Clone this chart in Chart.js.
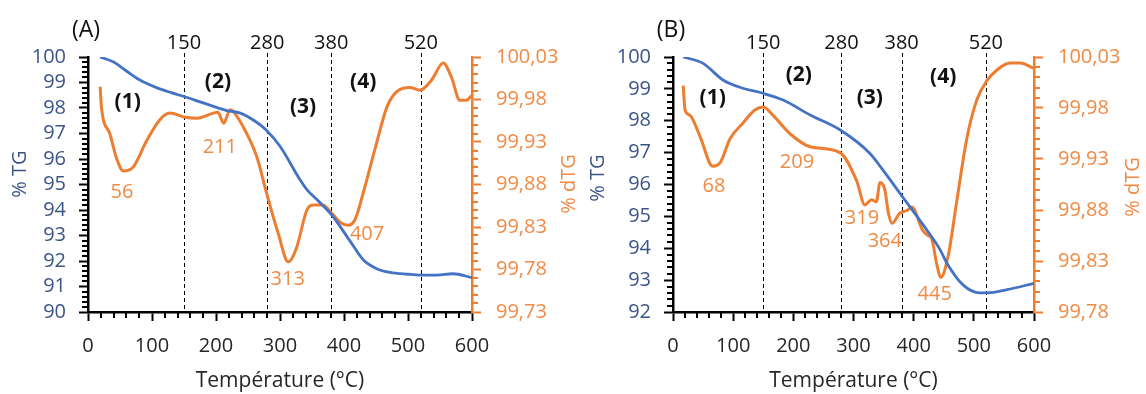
<!DOCTYPE html>
<html><head><meta charset="utf-8">
<script src="https://cdn.jsdelivr.net/npm/chart.js@4.4.1/dist/chart.umd.min.js"></script>
<style>
html,body{margin:0;padding:0;background:#fff;}
#wrap{position:relative;width:1146px;height:394px;overflow:hidden;background:#fff;}
#ca{position:absolute;left:0;top:0;width:590px;height:394px;}
#cb{position:absolute;left:573px;top:0;width:573px;height:394px;}
</style></head><body>
<div id="wrap"><canvas id="ca" width="590" height="394"></canvas><canvas id="cb" width="573" height="394"></canvas></div>
<script>
// ---------- DATA ----------
// Panel A
const tempA_TG = [19, 40, 60, 81, 107, 130, 150, 180, 217, 238, 260, 278, 300, 331, 342, 360, 381, 409, 430, 451, 472, 500, 519, 545, 570, 600];
const tgA      = [100.0, 99.8, 99.45, 99.1, 98.8, 98.6, 98.45, 98.2, 97.9, 97.8, 97.5, 97.15, 96.5, 95.2, 94.8, 94.35, 93.8, 92.8, 92.05, 91.7, 91.55, 91.48, 91.45, 91.45, 91.5, 91.35];
const tempA_dTG = [19, 21, 34, 45, 55, 70, 92, 112, 128, 152, 170, 196, 203, 212, 222, 227, 248, 264, 279, 297, 313, 326, 342, 352, 367, 381, 395, 407, 418, 430, 451, 467, 482, 503, 519, 537, 555, 568, 581, 591, 600];
const dtgA      = [99.995, 99.971, 99.94, 99.91, 99.896, 99.90, 99.932, 99.956, 99.964, 99.959, 99.958, 99.964, 99.965, 99.952, 99.968, 99.966, 99.94, 99.912, 99.87, 99.823, 99.789, 99.806, 99.85, 99.856, 99.856, 99.846, 99.835, 99.832, 99.84, 99.87, 99.929, 99.971, 99.989, 99.994, 99.991, 100.003, 100.023, 100.006, 99.979, 99.979, 99.985];
// Panel B
const tempB_TG = [17, 50, 83, 116, 148, 183, 228, 278, 327, 349, 382, 422, 444, 455, 482, 510, 522, 555, 600];
const tgB      = [100.0, 99.8, 99.28, 99.02, 98.87, 98.65, 98.18, 97.71, 96.98, 96.45, 95.6, 94.57, 93.95, 93.54, 92.85, 92.6, 92.6, 92.7, 92.9];
const tempB_dTG = [17, 20, 28, 45, 66, 78, 95, 116, 136, 150, 166, 194, 228, 278, 305, 319, 330, 338, 344, 352, 358, 364, 377, 382, 390, 397, 415, 424, 430, 438, 445, 457, 472, 488, 505, 522, 538, 560, 577, 599];
const dtgB      = [100.002, 99.978, 99.973, 99.952, 99.923, 99.926, 99.95, 99.965, 99.978, 99.981, 99.973, 99.955, 99.942, 99.936, 99.909, 99.885, 99.89, 99.888, 99.907, 99.9, 99.877, 99.867, 99.877, 99.878, 99.88, 99.883, 99.86, 99.855, 99.852, 99.828, 99.814, 99.834, 99.89, 99.949, 99.988, 100.007, 100.017, 100.024, 100.024, 100.019];

// Ticks
const xTicks = [0, 100, 200, 300, 400, 500, 600];
const tgTicksA = [90, 91, 92, 93, 94, 95, 96, 97, 98, 99, 100];
const dtgTicksA = [99.73, 99.78, 99.83, 99.88, 99.93, 99.98, 100.03];
const tgTicksB = [92, 93, 94, 95, 96, 97, 98, 99, 100];
const dtgTicksB = [99.78, 99.83, 99.88, 99.93, 99.98, 100.03];

// Vertical dashed temperature markers
const markerTemps = [150, 280, 380, 520];

// Stage labels (placed in TG-axis coordinates)
const stageLabels = ['(1)', '(2)', '(3)', '(4)'];
const stageTA = [62, 203, 336, 430];
const stageVA = [98.24, 99.02, 98.04, 99.02];
const stageTB = [66, 209, 327, 449];
const stageVB = [98.71, 99.44, 98.71, 99.37];

// Peak labels (placed in dTG-axis coordinates)
const peakLabelsA = ['56', '211', '313', '407'];
const peakTA = [53, 206, 312, 436];
const peakVA = [99.871, 99.924, 99.768, 99.821];
const peakLabelsB = ['68', '209', '319', '364', '445'];
const peakTB = [68, 206, 314, 352, 435];
const peakVB = [99.903, 99.927, 99.872, 99.849, 99.797];

// ---------- STYLE ----------
const FONT = "'Open Sans', sans-serif";
const BLUE = '#4472C4';
const ORANGE = '#ED7D31';
const ORANGE_TXT = '#EF8A45';
const TG_TXT = '#3B5587';
const DARK = '#262626';

function pts(xs, ys) { return xs.map((x, i) => ({x: x, y: ys[i]})); }

function vText(ctx, text, cx, cy) {
  ctx.save();
  ctx.translate(cx, cy);
  ctx.rotate(-Math.PI / 2);
  ctx.textAlign = 'center'; ctx.textBaseline = 'middle';
  ctx.fillText(text, 0, 0);
  ctx.restore();
}

function makePlugin(p) {
  return {
    id: 'extras_' + p.name,
    beforeDatasetsDraw(chart) {
      const ctx = chart.ctx, x = chart.scales.x, area = chart.chartArea;
      ctx.save();
      ctx.strokeStyle = '#000';
      ctx.lineWidth = 1;
      ctx.setLineDash([4, 3]);
      p.markers.forEach(t => {
        const px = Math.round(x.getPixelForValue(t)) + 0.5;
        ctx.beginPath(); ctx.moveTo(px, area.top - 4); ctx.lineTo(px, area.bottom); ctx.stroke();
      });
      ctx.restore();
    },
    afterDraw(chart) {
      const ctx = chart.ctx, x = chart.scales.x, y = chart.scales.y, y2 = chart.scales.y2, area = chart.chartArea;
      ctx.save();
      ctx.setLineDash([]);
      // minor ticks
      ctx.lineWidth = 2;
      ctx.strokeStyle = '#000';
      ctx.beginPath();
      for (let t = 20; t < 600; t += 20) {
        if (t % 100 === 0) continue;
        const px = Math.round(x.getPixelForValue(t));
        ctx.moveTo(px, area.bottom); ctx.lineTo(px, area.bottom + 6);
      }
      const nTg = Math.round((p.tgMax - p.tgMin) / 0.2);
      for (let k = 1; k < nTg; k++) {
        if (k % 5 === 0) continue;
        const py = Math.round(y.getPixelForValue(p.tgMin + k * 0.2));
        ctx.moveTo(area.left, py); ctx.lineTo(area.left - 6, py);
      }
      ctx.stroke();
      ctx.strokeStyle = ORANGE;
      ctx.beginPath();
      const nD = Math.round((p.dMax - p.dMin) / 0.01);
      for (let k = 1; k < nD; k++) {
        if (k % 5 === 0) continue;
        const py = Math.round(y2.getPixelForValue(p.dMin + k * 0.01));
        ctx.moveTo(area.right, py); ctx.lineTo(area.right + 6, py);
      }
      ctx.stroke();
      // axis titles (vertical, reading upward)
      ctx.font = '20px ' + FONT;
      ctx.fillStyle = TG_TXT;
      vText(ctx, '% TG', p.leftTitleX, p.leftTitleY);
      ctx.fillStyle = ORANGE_TXT;
      vText(ctx, '% dTG', area.right + p.rightTitleOff, p.rightTitleY);
      // marker labels
      ctx.fillStyle = '#111';
      ctx.font = '20px ' + FONT;
      ctx.textAlign = 'center'; ctx.textBaseline = 'middle';
      p.markers.forEach(t => ctx.fillText(String(t), x.getPixelForValue(t), area.top - 14));
      // panel letter
      ctx.font = '23px ' + FONT;
      ctx.fillText(p.letter, area.left - 2, area.top - 27);
      // stage labels
      ctx.font = 'bold 21px ' + FONT;
      p.stageT.forEach((t, i) => ctx.fillText(stageLabels[i], x.getPixelForValue(t), y.getPixelForValue(p.stageV[i])));
      // peak labels
      ctx.font = '20px ' + FONT;
      ctx.fillStyle = ORANGE_TXT;
      p.peakT.forEach((t, i) => ctx.fillText(p.peakL[i], x.getPixelForValue(t), y2.getPixelForValue(p.peakV[i])));
      ctx.restore();
    }
  };
}

function makeChart(id, p) {
  const setTicks = arr => (s => { s.ticks = arr.map(v => ({value: v})); });
  return new Chart(document.getElementById(id), {
    type: 'line',
    data: {
      datasets: [
        {label: '% TG', data: pts(p.tT, p.tg), yAxisID: 'y', borderColor: BLUE, borderWidth: 2.8,
         pointRadius: 0, cubicInterpolationMode: 'monotone', fill: false},
        {label: '% dTG', data: pts(p.dT, p.dtg), yAxisID: 'y2', borderColor: ORANGE, borderWidth: 3,
         pointRadius: 0, cubicInterpolationMode: 'monotone', fill: false}
      ]
    },
    options: {
      responsive: false, animation: false, devicePixelRatio: 1,
      layout: {padding: {top: 57, left: 0, right: 0, bottom: 0}},
      plugins: {legend: {display: false}, tooltip: {enabled: false}},
      scales: {
        x: {
          type: 'linear', min: 0, max: 600, afterBuildTicks: setTicks(xTicks),
          afterFit: s => { s.height = 82; },
          grid: {drawOnChartArea: false, drawTicks: true, tickLength: 9, tickWidth: 2, tickColor: '#000'},
          border: {color: '#000', width: 2.5},
          ticks: {color: DARK, font: {family: FONT, size: 20}, padding: 13, maxRotation: 0, autoSkip: false},
          title: {display: true, text: 'Température (°C)', color: DARK, font: {family: FONT, size: 21}, padding: {bottom: 0}}
        },
        y: {
          position: 'left', min: p.tgMin, max: p.tgMax, afterBuildTicks: setTicks(p.tgTicks),
          afterFit: s => { s.width = p.leftW; },
          grid: {drawOnChartArea: false, drawTicks: true, tickLength: 9, tickWidth: 2, tickColor: '#000'},
          border: {color: '#000', width: 2.5},
          ticks: {color: TG_TXT, font: {family: FONT, size: 20}, padding: 13, autoSkip: false, callback: v => String(v)},
          title: {display: false}
        },
        y2: {
          position: 'right', min: p.dMin, max: p.dMax, afterBuildTicks: setTicks(p.dTicks),
          afterFit: s => { s.width = p.rightW; },
          grid: {drawOnChartArea: false, drawTicks: true, tickLength: 9, tickWidth: 2, tickColor: ORANGE},
          border: {color: ORANGE, width: 2.5},
          ticks: {color: ORANGE_TXT, font: {family: FONT, size: 20}, padding: 15, autoSkip: false,
                  callback: v => v.toFixed(2).replace('.', ',')},
          title: {display: false}
        }
      }
    },
    plugins: [makePlugin(p)]
  });
}

makeChart('ca', {
  name: 'A', letter: '(A)', tT: tempA_TG, tg: tgA, dT: tempA_dTG, dtg: dtgA,
  tgMin: 90, tgMax: 100, tgTicks: tgTicksA, dMin: 99.73, dMax: 100.03, dTicks: dtgTicksA,
  leftW: 88, rightW: 118, leftTitleX: 20, leftTitleY: 174, rightTitleOff: 97, rightTitleY: 184,
  markers: markerTemps, stageT: stageTA, stageV: stageVA,
  peakL: peakLabelsA, peakT: peakTA, peakV: peakVA
});
makeChart('cb', {
  name: 'B', letter: '(B)', tT: tempB_TG, tg: tgB, dT: tempB_dTG, dtg: dtgB,
  tgMin: 92, tgMax: 100, tgTicks: tgTicksB, dMin: 99.78, dMax: 100.03, dTicks: dtgTicksB,
  leftW: 100, rightW: 112, leftTitleX: 25, leftTitleY: 178, rightTitleOff: 99, rightTitleY: 187,
  markers: markerTemps, stageT: stageTB, stageV: stageVB,
  peakL: peakLabelsB, peakT: peakTB, peakV: peakVB
});
</script>
</body></html>
